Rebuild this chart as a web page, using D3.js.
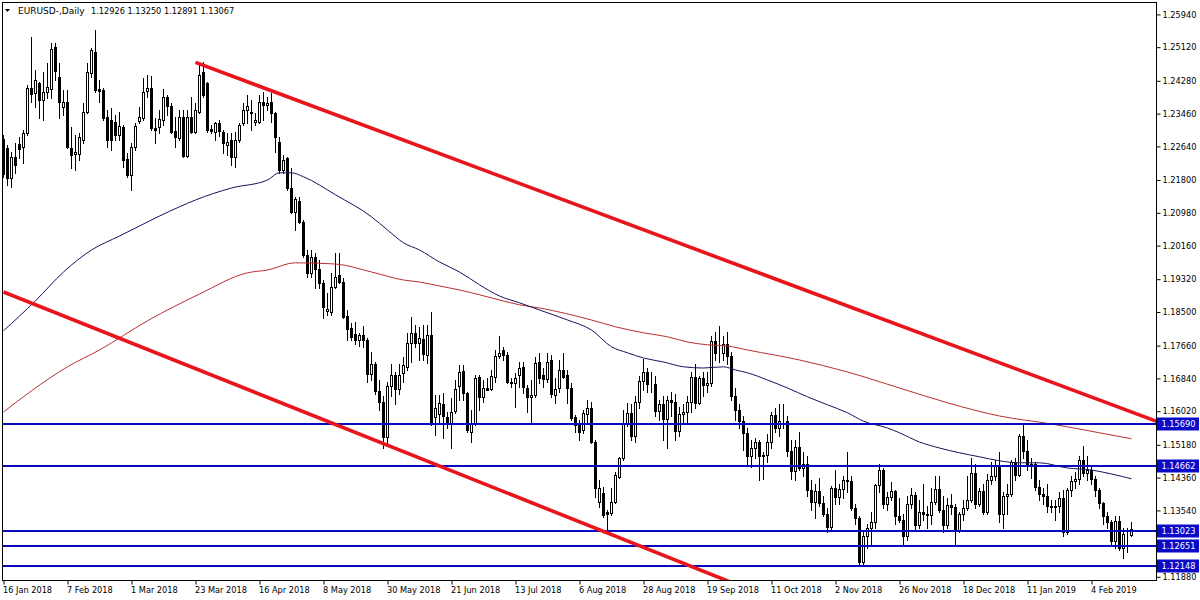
<!DOCTYPE html>
<html><head><meta charset="utf-8">
<script src="https://cdn.jsdelivr.net/npm/d3@7"></script>
<style>body{margin:0;background:#fff}svg{display:block}text{font-family:"DejaVu Sans",Tahoma,sans-serif;white-space:pre}</style>
</head><body>
<svg id="chart" width="1200" height="600"></svg>
<script>
const symbolTitle = "EURUSD-,Daily";
const titleValues = ["1.12926", "1.13250", "1.12891", "1.13067"];

const open = [1.2282,1.2259,1.2184,1.2237,1.2270,1.2263,1.2297,1.2409,1.2397,1.2422,1.2380,1.2401,1.2407,1.2513,1.2438,1.2363,1.2376,1.2259,1.2245,1.2245,
1.2280,1.2351,1.2448,1.2501,1.2407,1.2405,1.2338,1.2330,1.2326,1.2292,1.2313,1.2232,1.2192,1.2263,1.2328,1.2334,1.2403,1.2409,1.2311,1.2312,
1.2330,1.2388,1.2365,1.2303,1.2284,1.2337,1.2240,1.2338,1.2301,1.2351,1.2451,1.2422,1.2307,1.2301,1.2322,1.2301,1.2267,1.2280,1.2238,1.2280,
1.2322,1.2355,1.2351,1.2326,1.2326,1.2376,1.2368,1.2376,1.2347,1.2276,1.2205,1.2234,1.2159,1.2101,1.2128,1.2076,1.1993,1.1948,1.1988,1.1957,
1.1922,1.1853,1.1851,1.1913,1.1942,1.1926,1.1840,1.1809,1.1795,1.1780,1.1792,1.1779,1.1694,1.1719,1.1653,1.1624,1.1537,1.1664,1.1693,1.1658,
1.1698,1.1713,1.1772,1.1798,1.1772,1.1782,1.1743,1.1793,1.1587,1.1595,1.1620,1.1588,1.1572,1.1603,1.1665,1.1703,1.1647,1.1551,1.1572,1.1688,
1.1638,1.1659,1.1657,1.1688,1.1740,1.1755,1.1742,1.1676,1.1672,1.1693,1.1712,1.1659,1.1638,1.1642,1.1726,1.1692,1.1682,1.1730,1.1642,1.1659,
1.1705,1.1692,1.1659,1.1588,1.1567,1.1555,1.1595,1.1609,1.1526,1.1376,1.1397,1.1350,1.1347,1.1376,1.1438,1.1484,1.1571,1.1597,1.1540,1.1624,
1.1678,1.1701,1.1670,1.1671,1.1603,1.1621,1.1582,1.1629,1.1624,1.1553,1.1594,1.1600,1.1626,1.1688,1.1623,1.1685,1.1668,1.1672,1.1778,1.1748,
1.1748,1.1770,1.1739,1.1640,1.1604,1.1578,1.1548,1.1490,1.1511,1.1524,1.1489,1.1492,1.1524,1.1593,1.1560,1.1578,1.1578,1.1503,1.1452,1.1513,
1.1461,1.1469,1.1404,1.1376,1.1403,1.1373,1.1344,1.1312,1.1409,1.1388,1.1408,1.1430,1.1427,1.1360,1.1334,1.1226,1.1290,1.1310,1.1326,1.1418,
1.1456,1.1370,1.1387,1.1402,1.1339,1.1330,1.1290,1.1371,1.1392,1.1317,1.1350,1.1344,1.1343,1.1376,1.1408,1.1356,1.1318,1.1367,1.1363,1.1306,
1.1346,1.1361,1.1380,1.1448,1.1371,1.1402,1.1351,1.1431,1.1441,1.1466,1.1345,1.1391,1.1394,1.1475,1.1443,1.1540,1.1503,1.1468,1.1470,1.1412,
1.1394,1.1389,1.1365,1.1362,1.1366,1.1385,1.1299,1.1406,1.1427,1.1432,1.1480,1.1447,1.1456,1.1433,1.1405,1.1372,1.1341,1.1324,1.1277,1.1327,
1.1260,1.1294,1.12926];

const high = [1.2293,1.2268,1.2251,1.2272,1.2288,1.2305,1.2418,1.2537,1.2455,1.2426,1.2451,1.2472,1.2522,1.2522,1.2472,1.2405,1.2405,1.2313,1.2292,1.2297,
1.2372,1.2472,1.2509,1.2555,1.2430,1.2409,1.2355,1.2359,1.2342,1.2351,1.2317,1.2247,1.2272,1.2322,1.2363,1.2434,1.2442,1.2440,1.2334,1.2355,
1.2407,1.2392,1.2372,1.2338,1.2355,1.2355,1.2355,1.2388,1.2372,1.2476,1.2476,1.2426,1.2317,1.2326,1.2330,1.2305,1.2297,1.2297,1.2301,1.2322,
1.2372,1.2392,1.2380,1.2347,1.2392,1.2401,1.2388,1.2397,1.2351,1.2288,1.2242,1.2238,1.2209,1.2138,1.2138,1.2080,1.2005,1.2005,1.1997,1.1980,
1.1930,1.1897,1.1947,1.1997,1.1997,1.1934,1.1855,1.1822,1.1826,1.1797,1.1815,1.1786,1.1750,1.1724,1.1680,1.1640,1.1675,1.1720,1.1700,1.1720,
1.1738,1.1797,1.1838,1.1818,1.1813,1.1818,1.1818,1.1851,1.1643,1.1643,1.1647,1.1600,1.1634,1.1680,1.1718,1.1718,1.1651,1.1605,1.1692,1.1692,
1.1680,1.1684,1.1705,1.1755,1.1790,1.1763,1.1751,1.1684,1.1697,1.1726,1.1726,1.1667,1.1680,1.1738,1.1747,1.1709,1.1747,1.1742,1.1684,1.1730,
1.1747,1.1705,1.1672,1.1592,1.1580,1.1605,1.1630,1.1626,1.1530,1.1430,1.1413,1.1355,1.1409,1.1451,1.1488,1.1605,1.1623,1.1620,1.1640,1.1690,
1.1733,1.1710,1.1700,1.1690,1.1630,1.1640,1.1640,1.1650,1.1645,1.1612,1.1620,1.1640,1.1700,1.1720,1.1690,1.1700,1.1700,1.1790,1.1800,1.1815,
1.1790,1.1800,1.1750,1.1660,1.1620,1.1590,1.1560,1.1530,1.1535,1.1530,1.1500,1.1545,1.1600,1.1610,1.1620,1.1620,1.1590,1.1530,1.1530,1.1550,
1.1500,1.1490,1.1430,1.1420,1.1435,1.1390,1.1360,1.1415,1.1455,1.1420,1.1440,1.1500,1.1440,1.1370,1.1340,1.1300,1.1320,1.1350,1.1420,1.1470,
1.1460,1.1400,1.1425,1.1405,1.1385,1.1345,1.1390,1.1410,1.1400,1.1380,1.1420,1.1365,1.1410,1.1440,1.1440,1.1390,1.1385,1.1395,1.1370,1.1350,
1.1380,1.1440,1.1485,1.1470,1.1410,1.1420,1.1445,1.1475,1.1480,1.1500,1.1400,1.1420,1.1480,1.1485,1.1545,1.1570,1.1530,1.1485,1.1475,1.1430,
1.1410,1.1420,1.1380,1.1380,1.1400,1.1405,1.1410,1.1440,1.1450,1.1490,1.1515,1.1490,1.1465,1.1440,1.1410,1.1375,1.1350,1.1330,1.1340,1.1340,
1.1310,1.1310,1.13250];

const low = [1.2188,1.2167,1.2163,1.2197,1.2234,1.2222,1.2293,1.2376,1.2363,1.2334,1.2330,1.2384,1.2384,1.2430,1.2334,1.2342,1.2259,1.2209,1.2205,1.2230,
1.2272,1.2347,1.2438,1.2401,1.2376,1.2330,1.2263,1.2255,1.2280,1.2280,1.2213,1.2188,1.2155,1.2255,1.2322,1.2330,1.2388,1.2305,1.2272,1.2297,
1.2317,1.2342,1.2297,1.2263,1.2280,1.2238,1.2238,1.2297,1.2297,1.2347,1.2388,1.2301,1.2297,1.2280,1.2290,1.2247,1.2242,1.2217,1.2213,1.2276,
1.2317,1.2322,1.2305,1.2317,1.2322,1.2330,1.2355,1.2326,1.2251,1.2197,1.2197,1.2155,1.2097,1.2055,1.2072,1.1988,1.1938,1.1938,1.1909,1.1909,
1.1834,1.1843,1.1843,1.1909,1.1922,1.1834,1.1780,1.1780,1.1770,1.1765,1.1762,1.1676,1.1680,1.1645,1.1605,1.1510,1.1520,1.1640,1.1620,1.1645,
1.1676,1.1705,1.1726,1.1763,1.1730,1.1730,1.1722,1.1567,1.1543,1.1572,1.1535,1.1560,1.1509,1.1597,1.1630,1.1630,1.1551,1.1526,1.1568,1.1605,
1.1626,1.1655,1.1655,1.1676,1.1734,1.1730,1.1673,1.1663,1.1613,1.1663,1.1647,1.1601,1.1572,1.1638,1.1672,1.1663,1.1676,1.1638,1.1622,1.1651,
1.1684,1.1622,1.1580,1.1551,1.1530,1.1547,1.1572,1.1522,1.1388,1.1363,1.1338,1.1301,1.1343,1.1372,1.1434,1.1480,1.1565,1.1530,1.1525,1.1610,
1.1655,1.1650,1.1650,1.1590,1.1580,1.1530,1.1510,1.1590,1.1530,1.1540,1.1570,1.1575,1.1600,1.1610,1.1620,1.1640,1.1650,1.1665,1.1730,1.1725,
1.1730,1.1720,1.1630,1.1580,1.1560,1.1505,1.1465,1.1463,1.1485,1.1430,1.1432,1.1475,1.1510,1.1550,1.1540,1.1560,1.1490,1.1432,1.1430,1.1455,
1.1440,1.1390,1.1355,1.1335,1.1365,1.1340,1.1300,1.1305,1.1370,1.1370,1.1385,1.1400,1.1355,1.1320,1.1215,1.1215,1.1260,1.1265,1.1310,1.1400,
1.1360,1.1355,1.1380,1.1320,1.1325,1.1265,1.1280,1.1360,1.1305,1.1310,1.1330,1.1310,1.1320,1.1370,1.1350,1.1300,1.1310,1.1345,1.1270,1.1300,
1.1330,1.1355,1.1375,1.1360,1.1365,1.1345,1.1345,1.1420,1.1430,1.1325,1.1310,1.1345,1.1390,1.1430,1.1440,1.1485,1.1455,1.1435,1.1405,1.1380,
1.1370,1.1350,1.1350,1.1330,1.1350,1.1290,1.1295,1.1390,1.1410,1.1420,1.1440,1.1430,1.1420,1.1390,1.1360,1.1320,1.1310,1.1265,1.1260,1.1255,
1.1235,1.1250,1.12891];

const close = [1.2195,1.2186,1.2238,1.2218,1.2257,1.2297,1.2409,1.2395,1.2430,1.2380,1.2401,1.2412,1.2507,1.2453,1.2376,1.2376,1.2263,1.2242,1.2251,1.2288,
1.2351,1.2451,1.2505,1.2405,1.2403,1.2334,1.2280,1.2280,1.2292,1.2315,1.2230,1.2192,1.2263,1.2315,1.2337,1.2401,1.2409,1.2309,1.2305,1.2332,
1.2388,1.2365,1.2301,1.2287,1.2337,1.2240,1.2338,1.2299,1.2355,1.2443,1.2392,1.2305,1.2303,1.2322,1.2302,1.2272,1.2276,1.2238,1.2280,1.2317,
1.2355,1.2365,1.2347,1.2330,1.2376,1.2368,1.2372,1.2347,1.2288,1.2205,1.2230,1.2159,1.2101,1.2132,1.2076,1.1993,1.1948,1.1988,1.1957,1.1922,
1.1863,1.1857,1.1913,1.1938,1.1926,1.1837,1.1807,1.1788,1.1780,1.1793,1.1779,1.1694,1.1719,1.1653,1.1624,1.1537,1.1664,1.1693,1.1658,1.1693,
1.1718,1.1773,1.1797,1.1772,1.1784,1.1745,1.1793,1.1572,1.1609,1.1622,1.1590,1.1572,1.1601,1.1657,1.1701,1.1647,1.1555,1.1572,1.1684,1.1638,
1.1659,1.1655,1.1690,1.1740,1.1748,1.1742,1.1676,1.1672,1.1684,1.1709,1.1663,1.1638,1.1642,1.1722,1.1684,1.1682,1.1726,1.1645,1.1657,1.1705,
1.1688,1.1659,1.1584,1.1567,1.1551,1.1597,1.1609,1.1526,1.1409,1.1409,1.1343,1.1345,1.1376,1.1443,1.1484,1.1571,1.1597,1.1540,1.1624,1.1678,
1.1701,1.1670,1.1671,1.1603,1.1621,1.1582,1.1629,1.1624,1.1553,1.1594,1.1600,1.1626,1.1688,1.1623,1.1685,1.1668,1.1672,1.1778,1.1748,1.1748,
1.1770,1.1739,1.1640,1.1604,1.1578,1.1548,1.1490,1.1511,1.1524,1.1489,1.1492,1.1524,1.1593,1.1560,1.1578,1.1578,1.1503,1.1452,1.1513,1.1461,
1.1469,1.1404,1.1376,1.1403,1.1373,1.1344,1.1312,1.1409,1.1388,1.1408,1.1430,1.1427,1.1360,1.1334,1.1226,1.1290,1.1310,1.1326,1.1418,1.1456,
1.1370,1.1387,1.1402,1.1339,1.1330,1.1290,1.1371,1.1392,1.1317,1.1350,1.1344,1.1343,1.1376,1.1408,1.1356,1.1318,1.1367,1.1363,1.1306,1.1346,
1.1361,1.1380,1.1448,1.1371,1.1402,1.1351,1.1431,1.1441,1.1466,1.1345,1.1391,1.1394,1.1475,1.1443,1.1540,1.1503,1.1468,1.1470,1.1412,1.1394,
1.1389,1.1365,1.1362,1.1366,1.1385,1.1299,1.1406,1.1427,1.1432,1.1480,1.1447,1.1456,1.1433,1.1405,1.1372,1.1341,1.1324,1.1277,1.1327,1.1260,
1.1294,1.1295,1.13067];

// x-axis labels, one every 16 bars
const dateLabels = ["16 Jan 2018","7 Feb 2018","1 Mar 2018","23 Mar 2018","16 Apr 2018","8 May 2018","30 May 2018","21 Jun 2018","13 Jul 2018",
"6 Aug 2018","28 Aug 2018","19 Sep 2018","11 Oct 2018","2 Nov 2018","26 Nov 2018","18 Dec 2018","11 Jan 2019","4 Feb 2019"];
const labelStep = 16;

const priceTicks = [1.25940,1.25120,1.24280,1.23460,1.22640,1.21800,1.20980,1.20160,1.19320,1.18500,1.17660,1.16840,1.16020,1.15180,1.14360,1.13540,1.11880];
const levels = [1.15690, 1.14662, 1.13023, 1.12651, 1.12148];

// moving averages: [bar index, value]
const maBlue = [[0,1.1803],[8,1.1878],[15,1.1950],[22,1.2005],[29,1.2040],[34,1.2065],[39,1.2090],[44,1.2113],[48,1.2130],[57,1.2160],[66,1.2180],
[69,1.2198],[72,1.2198],[75,1.2188],[83,1.2143],[92,1.2088],[96,1.2055],[100,1.2023],[104,1.2005],[109,1.1975],[114,1.1950],[119,1.1918],
[124,1.1890],[129,1.1873],[134,1.1855],[141,1.1830],[147,1.1805],[152,1.1763],[156,1.1748],[160,1.1735],[165,1.1725],[170,1.1713],[175,1.1710],
[180,1.1713],[183,1.1705],[186,1.1698],[191,1.1680],[196,1.1660],[201,1.1638],[206,1.1618],[211,1.1598],[215,1.1577],[221,1.1560],[224,1.1548],
[229,1.1525],[234,1.1510],[239,1.1498],[244,1.1488],[249,1.1478],[254,1.1473],[259,1.1473],[266,1.1460],[272,1.1455],[277,1.1445],[282,1.1433]];
const maRed = [[0,1.1600],[7,1.1653],[16,1.1713],[24,1.1755],[36,1.1828],[49,1.1895],[61,1.1948],[66,1.1955],[73,1.1973],[83,1.1970],[92,1.1950],
[100,1.1930],[104,1.1925],[109,1.1915],[114,1.1905],[119,1.1893],[124,1.1880],[129,1.1868],[134,1.1860],[147,1.1830],[153,1.1813],[160,1.1798],
[166,1.1788],[171,1.1775],[176,1.1768],[181,1.1765],[186,1.1755],[199,1.1730],[211,1.1700],[224,1.1660],[236,1.1623],[249,1.1590],[262,1.1570],
[274,1.1548],[282,1.1533]];

// trend lines: [bar index, price]
const trendUpper = [[48,1.2474],[288.4,1.1576]];
const trendLower = [[0,1.1900],[200,1.1102]];

const svg = d3.select("#chart");
const L = 2.5, R = 1156.5, T = 2.5, B = 580.5;
const FS = "8.2px";
const n = close.length;
const x = d3.scaleLinear().domain([0, n - 1]).range([3.5, 3.5 + 4 * (n - 1)]);
const y = d3.scaleLinear().domain([1.1188, 1.2594]).range([576.8, 14.4]);

svg.append("rect").attr("width", 1200).attr("height", 600).attr("fill", "#fff");
svg.append("defs").append("clipPath").attr("id", "plot")
  .append("rect").attr("x", L + 0.5).attr("y", T + 0.5).attr("width", R - L - 1).attr("height", B - T - 1);

const plot = svg.append("g").attr("clip-path", "url(#plot)");
const idx = d3.range(n);

// candles
const cg = plot.append("g");
cg.selectAll("line.wick").data(idx).join("line").attr("class", "wick")
  .attr("x1", i => x(i)).attr("x2", i => x(i))
  .attr("y1", i => Math.round(y(high[i]))).attr("y2", i => Math.round(y(low[i])) + 1)
  .attr("stroke", "#000").attr("stroke-width", 1);
cg.selectAll("rect.body").data(idx).join("rect").attr("class", "body")
  .each(function (i) {
    const top = Math.round(y(Math.max(open[i], close[i])));
    const bot = Math.round(y(Math.min(open[i], close[i])));
    const s = d3.select(this);
    if (close[i] < open[i]) {
      s.attr("x", x(i) - 1.5).attr("y", top).attr("width", 3).attr("height", Math.max(1, bot - top + 1)).attr("fill", "#000");
    } else {
      s.attr("x", x(i) - 1).attr("y", top + 0.5).attr("width", 2).attr("height", Math.max(0, bot - top))
        .attr("fill", "#fff").attr("stroke", "#000").attr("stroke-width", 1);
    }
  });

// moving averages
const maLine = d3.line().x(d => x(d[0])).y(d => y(d[1])).curve(d3.curveMonotoneX);
plot.append("path").attr("d", maLine(maRed)).attr("fill", "none").attr("stroke", "#b83030").attr("stroke-width", 1);
plot.append("path").attr("d", maLine(maBlue)).attr("fill", "none").attr("stroke", "#14145c").attr("stroke-width", 1);

// horizontal levels
plot.selectAll("line.level").data(levels).join("line").attr("class", "level")
  .attr("x1", L).attr("x2", R).attr("y1", d => Math.round(y(d))).attr("y2", d => Math.round(y(d)))
  .attr("stroke", "#0a0ac0").attr("stroke-width", 2);

// trend lines extended to the right edge
function extend(pts) {
  const [a, b] = pts;
  const slope = (b[1] - a[1]) / (b[0] - a[0]);
  const iEnd = x.invert(R + 5);
  return [a, [iEnd, a[1] + slope * (iEnd - a[0])]];
}
const tl = d3.line().x(d => x(d[0])).y(d => y(d[1]));
[trendUpper, trendLower].forEach(t => {
  plot.append("path").attr("d", tl(extend(t))).attr("fill", "none")
    .attr("stroke", "#e8161c").attr("stroke-width", 3.6).attr("stroke-linecap", "butt");
});

// frame
svg.append("rect").attr("x", L).attr("y", T).attr("width", R - L).attr("height", B - T)
  .attr("fill", "none").attr("stroke", "#000").attr("stroke-width", 1);

// right price axis
const yAxis = d3.axisRight(y).tickValues(priceTicks).tickFormat(d3.format(".5f")).tickSize(4).tickPadding(2);
const ya = svg.append("g").attr("transform", `translate(${R},0)`).call(yAxis);
ya.select(".domain").remove();
ya.selectAll("text").attr("font-size", FS).attr("fill", "#000").attr("font-family", '"DejaVu Sans",Tahoma,sans-serif');
ya.selectAll("line").attr("stroke", "#000");

// level price boxes
const lb = svg.append("g");
levels.forEach(v => {
  const yy = Math.round(y(v));
  lb.append("rect").attr("x", R + 0.5).attr("y", yy - 6.5).attr("width", 42).attr("height", 13).attr("fill", "#0a0ac8");
  lb.append("text").attr("x", R + 5).attr("y", yy + 3.2).attr("fill", "#fff").attr("font-size", FS).text(d3.format(".5f")(v));
});

// bottom date axis
const labelIdx = dateLabels.map((d, k) => k * labelStep);
const xAxis = d3.axisBottom(x).tickValues(labelIdx).tickFormat((d, k) => dateLabels[k]).tickSize(4).tickPadding(3);
const xa = svg.append("g").attr("transform", `translate(0,${B})`).call(xAxis);
xa.select(".domain").remove();
xa.selectAll("text").attr("text-anchor", "start").attr("dx", "-1").attr("font-size", FS).attr("fill", "#000")
  .attr("font-family", '"DejaVu Sans",Tahoma,sans-serif');
xa.selectAll("line").attr("stroke", "#000");

// title
svg.append("path").attr("d", "M5,9 L10,9 L7.5,12 Z").attr("fill", "#000");
svg.append("text").attr("x", 18).attr("y", 14).attr("font-size", "9px").attr("fill", "#000").text(symbolTitle);
svg.append("text").attr("x", 91).attr("y", 14).attr("font-size", FS).attr("fill", "#000").text(titleValues.join(" "));
</script>
</body></html>
